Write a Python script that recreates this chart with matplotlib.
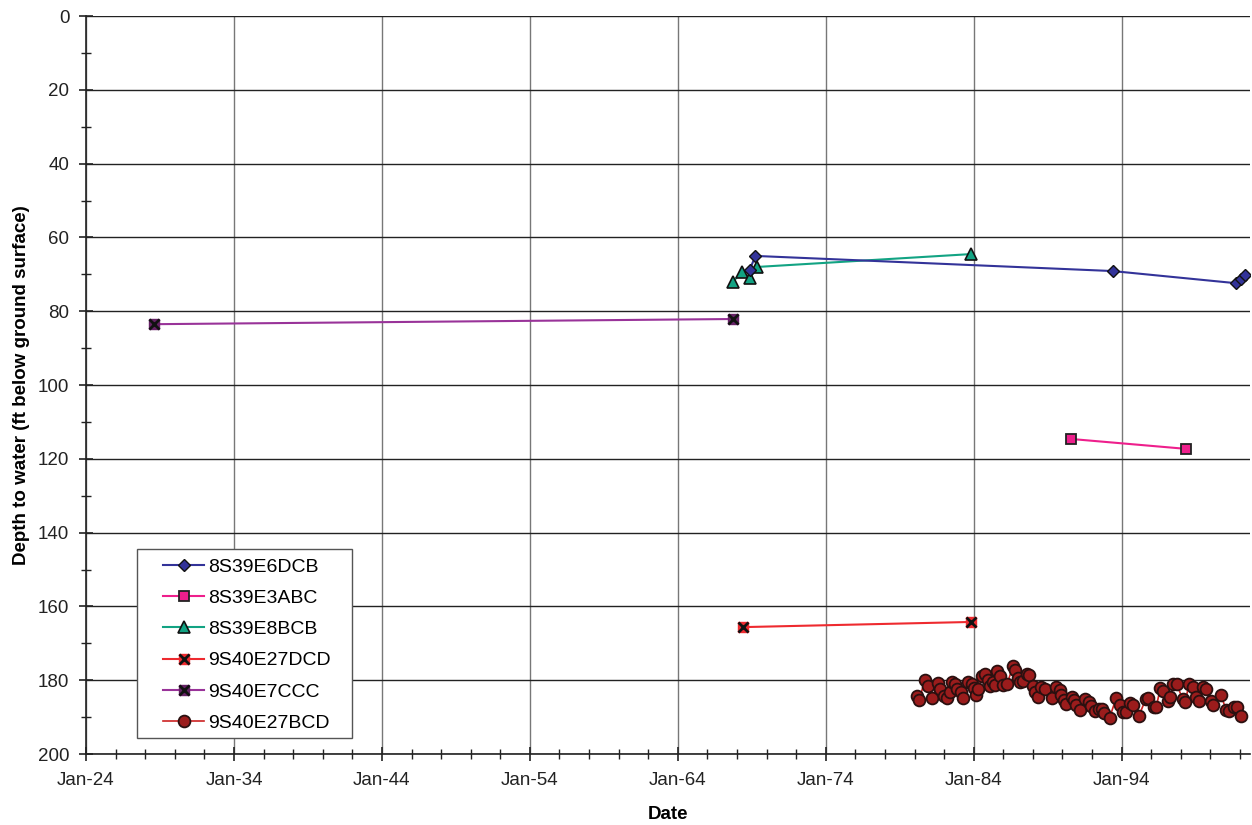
import matplotlib
matplotlib.use('Agg')
import matplotlib.pyplot as plt
from matplotlib.patches import Rectangle
from matplotlib.ticker import FixedLocator, MultipleLocator

plt.rcParams['font.family'] = ['Liberation Sans', 'DejaVu Sans']

# decimal years, depth to water (ft)
dcb6_x = [1968.85, 1969.25, 1993.39, 2001.75, 2002.09, 2002.36]
dcb6_y = [68.8, 65.0, 69.1, 72.4, 71.3, 70.3]

abc3_x = [1990.56, 1998.38]
abc3_y = [114.6, 117.3]

bcb8_x = [1967.70, 1968.31, 1968.91, 1969.32, 1983.82]
bcb8_y = [72.1, 69.4, 70.9, 68.0, 64.5]

dcd27_x = [1968.40, 1983.82]
dcd27_y = [165.6, 164.2]

ccc7_x = [1928.6, 1967.70]
ccc7_y = [83.5, 82.1]

bcd27_x = [1980.15, 1980.31, 1980.71, 1980.94, 1981.21, 1981.61, 1981.73, 1982.01,
           1982.18, 1982.40, 1982.55, 1982.74, 1982.85, 1983.12, 1983.30, 1983.63,
           1983.86, 1984.02, 1984.15, 1984.31, 1984.54, 1984.76, 1984.98, 1985.10,
           1985.32, 1985.43, 1985.55, 1985.77, 1985.99, 1986.26, 1986.67, 1986.78,
           1987.00, 1987.12, 1987.34, 1987.57, 1987.75, 1988.02, 1988.13, 1988.35,
           1988.58, 1988.81, 1989.26, 1989.59, 1989.82, 1989.93, 1990.09, 1990.22,
           1990.61, 1990.76, 1990.94, 1991.17, 1991.55, 1991.79, 1991.95, 1992.18,
           1992.47, 1992.70, 1992.78, 1993.19, 1993.64, 1993.86, 1994.09, 1994.31,
           1994.54, 1994.76, 1995.16, 1995.62, 1995.77, 1996.16, 1996.34, 1996.61,
           1996.78, 1997.12, 1997.28, 1997.50, 1997.73, 1998.13, 1998.31, 1998.54,
           1998.81, 1999.03, 1999.26, 1999.48, 1999.71, 2000.05, 2000.20, 2000.72,
           2001.06, 2001.28, 2001.57, 2001.77, 2002.07]
bcd27_y = [184.3, 185.4, 179.8, 181.6, 184.7, 180.7, 182.5, 184.3,
           184.9, 183.1, 180.4, 181.1, 182.5, 183.1, 184.7, 180.4,
           180.9, 182.0, 184.0, 182.5, 178.8, 178.2, 180.0, 181.6,
           180.4, 181.3, 177.4, 178.9, 181.3, 180.9, 176.1, 177.2,
           179.5, 180.5, 180.2, 178.2, 178.6, 181.6, 183.1, 184.5,
           181.7, 182.5, 184.9, 181.7, 182.7, 184.0, 185.4, 186.5,
           184.5, 185.4, 186.7, 188.1, 185.2, 185.8, 187.0, 188.3,
           187.9, 187.9, 189.0, 190.1, 184.7, 186.7, 188.5, 188.5,
           186.2, 186.7, 189.7, 185.2, 184.9, 187.3, 187.2, 182.2,
           182.9, 185.5, 184.5, 181.1, 181.1, 185.2, 185.8, 181.1,
           181.7, 184.6, 185.5, 181.9, 182.5, 185.5, 186.7, 184.0,
           188.1, 188.3, 187.2, 187.3, 189.7]

year_ticks = [1924, 1934, 1944, 1954, 1964, 1974, 1984, 1994]
year_labels = ['Jan-24', 'Jan-34', 'Jan-44', 'Jan-54', 'Jan-64', 'Jan-74', 'Jan-84', 'Jan-94']

fig = plt.figure(figsize=(12.52, 8.25), dpi=100)
ax = fig.add_axes([0.0687, 0.086, 0.93, 0.8945])

h1, = ax.plot(dcb6_x, dcb6_y, color='#333399', lw=1.5, marker='D', ms=6.5,
              mfc='#333399', mec='#111111', mew=1, label='8S39E6DCB', zorder=4)
h2, = ax.plot(abc3_x, abc3_y, color='#ee1f8c', lw=1.5, marker='s', ms=7.5,
              mfc='#ee1f8c', mec='#222222', mew=1.3, label='8S39E3ABC', zorder=4)
h3, = ax.plot(bcb8_x, bcb8_y, color='#12a383', lw=1.5, marker='^', ms=8,
              mfc='#12a383', mec='#111111', mew=1.2, label='8S39E8BCB', zorder=3)

h4l, = ax.plot(dcd27_x, dcd27_y, color='#ee2a2f', lw=1.5, marker='s', ms=7,
               mfc='#ee2a2f', mec='#ee2a2f', zorder=4)
h4m, = ax.plot(dcd27_x, dcd27_y, ls='none', marker='x', ms=7, mec='#111111',
               mew=2, zorder=5)
h5l, = ax.plot(ccc7_x, ccc7_y, color='#993399', lw=1.5, marker='s', ms=7,
               mfc='#662266', mec='#662266', zorder=4)
h5m, = ax.plot(ccc7_x, ccc7_y, ls='none', marker='x', ms=7, mec='#111111',
               mew=2, zorder=5)

h6, = ax.plot(bcd27_x, bcd27_y, color='#cc2222', lw=1.2, marker='o', ms=8.5,
              mfc='#9b1c1c', mec='#2a1010', mew=1.3, label='9S40E27BCD', zorder=4)

ax.set_xlim(1924, 2002.7)
ax.set_ylim(200, 0)

ax.xaxis.set_major_locator(FixedLocator(year_ticks))
ax.set_xticklabels(year_labels)
ax.xaxis.set_minor_locator(MultipleLocator(2))
ax.yaxis.set_major_locator(MultipleLocator(20))
ax.yaxis.set_minor_locator(MultipleLocator(10))

ax.tick_params(axis='both', which='major', direction='inout', length=10,
               width=1.2, labelsize=13.5, colors='#222222')
ax.tick_params(axis='both', which='minor', direction='inout', length=7, width=1,
               colors='#222222')
ax.tick_params(axis='x', pad=8)
ax.tick_params(axis='y', pad=7)

ax.grid(axis='y', which='major', color='#222222', lw=1)
ax.grid(axis='x', which='major', color='#777777', lw=1)
ax.set_axisbelow(True)

for s in ['top', 'right']:
    ax.spines[s].set_visible(False)
for s in ['left', 'bottom']:
    ax.spines[s].set_color('#222222')
    ax.spines[s].set_linewidth(1.2)

ax.set_xlabel('Date', fontsize=13.5, fontweight='bold', labelpad=12)
ax.set_ylabel('Depth to water (ft below ground surface)', fontsize=13.5,
              fontweight='bold', labelpad=6)

# legend box drawn separately so the padding matches the original
ax.add_patch(Rectangle((0.0438, 0.0217), 0.1847, 0.2561, transform=ax.transAxes,
                       facecolor='white', edgecolor='#555555', lw=1, zorder=6))
leg = ax.legend([h1, h2, h3, (h4l, h4m), (h5l, h5m), h6],
                ['8S39E6DCB', '8S39E3ABC', '8S39E8BCB', '9S40E27DCD', '9S40E7CCC', '9S40E27BCD'],
                loc='upper left', bbox_to_anchor=(0.0662, 0.2655), fontsize=14,
                frameon=False, borderpad=0, labelspacing=0.70, handlelength=2.1,
                handletextpad=0.2, borderaxespad=0)
leg.set_zorder(7)

fig.savefig('out.png', dpi=100)
